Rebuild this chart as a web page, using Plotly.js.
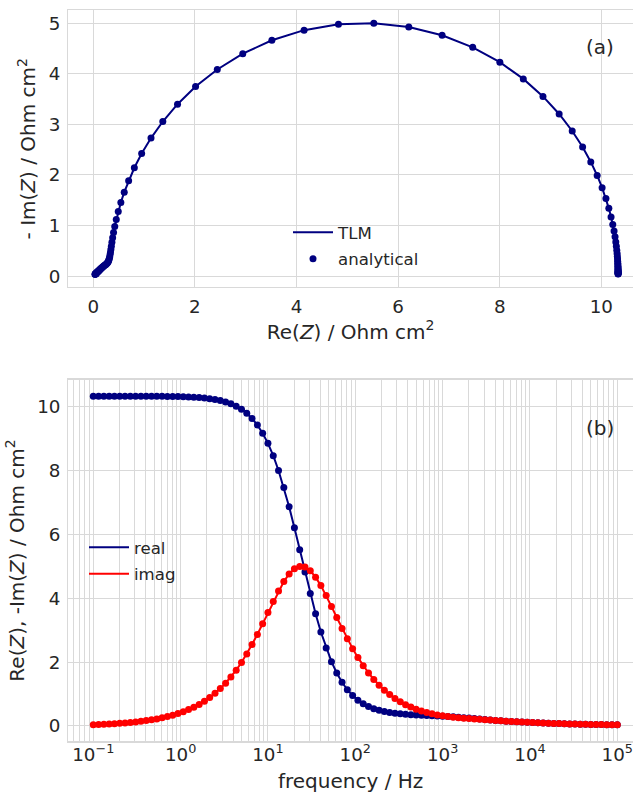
<!DOCTYPE html>
<html>
<head>
<meta charset="utf-8">
<script src="https://cdn.plot.ly/plotly-3.0.1.min.js"></script>
<style>
html, body { margin: 0; padding: 0; background: #ffffff; }
#chart { width: 633px; height: 793px; }
</style>
</head>
<body>
<div id="chart"></div>
<script>
// frequency / Hz (100 points, 0.1 Hz ... 100 kHz)
const frequency = [0.1, 0.115, 0.1322, 0.152, 0.1748, 0.2009, 0.231, 0.2656, 0.3054, 0.3511, 0.4037, 0.4642, 0.5337, 0.6136, 0.7055, 0.8111, 0.9326,
  1.072, 1.233, 1.417, 1.63, 1.874, 2.154, 2.477, 2.848, 3.275, 3.765, 4.329, 4.977, 5.722, 6.579, 7.565, 8.697,
  10, 11.5, 13.22, 15.2, 17.48, 20.09, 23.1, 26.56, 30.54, 35.11, 40.37, 46.42, 53.37, 61.36, 70.55, 81.11, 93.26,
  107.2, 123.3, 141.7, 163, 187.4, 215.4, 247.7, 284.8, 327.5, 376.5, 432.9, 497.7, 572.2, 657.9, 756.5, 869.7,
  1000, 1150, 1322, 1520, 1748, 2009, 2310, 2656, 3054, 3511, 4037, 4642, 5337, 6136, 7055, 8111, 9326,
  10720, 12330, 14170, 16300, 18740, 21540, 24770, 28480, 32750, 37650, 43290, 49770, 57220, 65790, 75650, 86970,
  100000];

// Re(Z) / Ohm cm2
const realZ = [10.3309, 10.3309, 10.3308, 10.3307, 10.3306, 10.3304, 10.3302, 10.3299, 10.3295, 10.3290,
  10.3283, 10.3274, 10.3262, 10.3246, 10.3225, 10.3197, 10.3160, 10.3112, 10.3048, 10.2963,
  10.2852, 10.2705, 10.2512, 10.2257, 10.1922, 10.1483, 10.0909, 10.0160, 9.9188, 9.7932,
  9.6321, 9.4274, 9.1702, 8.8518, 8.4645, 8.0034, 7.4685, 6.8662, 6.2104, 5.5219,
  4.8259, 4.1492, 3.5154, 2.9425, 2.4406, 2.0132, 1.6579, 1.3682, 1.1359, 0.9519,
  0.8078, 0.6957, 0.6091, 0.5424, 0.4913, 0.4520, 0.4219, 0.3987, 0.3808, 0.3667,
  0.3553, 0.3459, 0.3376, 0.3301, 0.3226, 0.3149, 0.3065, 0.2971, 0.2865, 0.2745,
  0.2614, 0.2472, 0.2322, 0.2171, 0.2021, 0.1877, 0.1742, 0.1618, 0.1504, 0.1400,
  0.1305, 0.1218, 0.1136, 0.1059, 0.0988, 0.0921, 0.0859, 0.0801, 0.0747, 0.0696,
  0.0649, 0.0606, 0.0565, 0.0527, 0.0491, 0.0458, 0.0427, 0.0398, 0.0371, 0.0346];

// -Im(Z) / Ohm cm2
const negImagZ = [0.0417, 0.0479, 0.0551, 0.0633, 0.0728, 0.0837, 0.0963, 0.1107, 0.1273, 0.1463,
  0.1682, 0.1933, 0.2223, 0.2556, 0.2938, 0.3377, 0.3881, 0.4460, 0.5125, 0.5887,
  0.6761, 0.7762, 0.8907, 1.0214, 1.1705, 1.3398, 1.5314, 1.7473, 1.9887, 2.2566,
  2.5504, 2.8678, 3.2041, 3.5512, 3.8975, 4.2272, 4.5215, 4.7601, 4.9239, 4.9985,
  4.9768, 4.8611, 4.6619, 4.3962, 4.0841, 3.7455, 3.3980, 3.0555, 2.7281, 2.4221,
  2.1413, 1.8866, 1.6590, 1.4562, 1.2771, 1.1197, 0.9821, 0.8623, 0.7583, 0.6683,
  0.5909, 0.5246, 0.4680, 0.4202, 0.3799, 0.3462, 0.3182, 0.2950, 0.2755, 0.2591,
  0.2448, 0.2318, 0.2196, 0.2076, 0.1957, 0.1839, 0.1722, 0.1609, 0.1500, 0.1398,
  0.1303, 0.1215, 0.1133, 0.1057, 0.0986, 0.0919, 0.0857, 0.0800, 0.0746, 0.0696,
  0.0649, 0.0605, 0.0564, 0.0526, 0.0491, 0.0458, 0.0427, 0.0398, 0.0371, 0.0346];

const freqTickVals = [0.1, 1, 10, 100, 1000, 10000, 100000];
const freqTickText = ['10<sup>\u22121</sup>', '10<sup>0</sup>', '10<sup>1</sup>', '10<sup>2</sup>', '10<sup>3</sup>', '10<sup>4</sup>', '10<sup>5</sup>'];

const FONT = 'DejaVu Sans, sans-serif';
const INK = '#262626';
const GRID = '#d9d9d9';
const NAVY = '#000080';
const RED = '#ff0000';

const traces = [
  { x: realZ, y: negImagZ, xaxis: 'x', yaxis: 'y', type: 'scatter', mode: 'lines', name: 'TLM',
    line: { color: NAVY, width: 2 }, legend: 'legend', legendgroup: 'g1' },
  { x: realZ, y: negImagZ, xaxis: 'x', yaxis: 'y', type: 'scatter', mode: 'markers', name: 'analytical',
    marker: { color: NAVY, size: 7 }, legend: 'legend', legendgroup: 'g2' },
  { x: frequency, y: realZ, xaxis: 'x2', yaxis: 'y2', type: 'scatter', mode: 'lines', name: 'real',
    line: { color: NAVY, width: 2 }, legend: 'legend2', legendgroup: 'g3' },
  { x: frequency, y: negImagZ, xaxis: 'x2', yaxis: 'y2', type: 'scatter', mode: 'lines', name: 'imag',
    line: { color: RED, width: 2 }, legend: 'legend2', legendgroup: 'g4' },
  { x: frequency, y: realZ, xaxis: 'x2', yaxis: 'y2', type: 'scatter', mode: 'markers', name: 'real (analytical)',
    marker: { color: NAVY, size: 7 }, showlegend: false },
  { x: frequency, y: negImagZ, xaxis: 'x2', yaxis: 'y2', type: 'scatter', mode: 'markers', name: 'imag (analytical)',
    marker: { color: RED, size: 7 }, showlegend: false }
];

const tickFont = { family: FONT, size: 18.3, color: INK };
const titleFont = { family: FONT, size: 20, color: INK };
function axisBase() {
  return { showline: true, mirror: true, linecolor: GRID, linewidth: 1.25, showgrid: true, gridcolor: GRID,
    gridwidth: 1, zeroline: false, ticks: '', tickfont: tickFont, automargin: false, ticklabelstandoff: 3 };
}

const layout = {
  width: 633, height: 793,
  margin: { l: 0, r: 0, t: 0, b: 0 },
  paper_bgcolor: '#ffffff', plot_bgcolor: '#ffffff',
  showlegend: true,
  xaxis: Object.assign(axisBase(), { domain: [0.1079, 1], range: [-0.492, 10.624], tick0: 0, dtick: 2, anchor: 'y',
    title: { text: 'Re(<i>Z</i>) / Ohm cm<sup>2</sup>', font: titleFont, standoff: 4 } }),
  yaxis: Object.assign(axisBase(), { domain: [0.6381, 0.9868], range: [-0.215, 5.25], tick0: 0, dtick: 1, anchor: 'x',
    title: { text: '- Im(<i>Z</i>) / Ohm cm<sup>2</sup>', font: titleFont, standoff: 7 } }),
  xaxis2: Object.assign(axisBase(), { type: 'log', domain: [0.1079, 1], range: [-1.286, 5.18], anchor: 'y2',
    tickmode: 'array', tickvals: freqTickVals, ticktext: freqTickText, ticklabelstandoff: -4,
    minor: { tickmode: 'linear', dtick: 'D1', showgrid: true, gridcolor: GRID, gridwidth: 1, ticks: '' },
    title: { text: 'frequency / Hz', font: titleFont, standoff: 15 } }),
  yaxis2: Object.assign(axisBase(), { domain: [0.0652, 0.5212], range: [-0.48, 10.846], tick0: 0, dtick: 2, anchor: 'x2',
    title: { text: 'Re(<i>Z</i>), -Im(<i>Z</i>) / Ohm cm<sup>2</sup>', font: titleFont, standoff: 7 } }),
  legend: { x: 288 / 633, xanchor: 'left', y: 1 - 215 / 793, yanchor: 'top', bgcolor: 'rgba(0,0,0,0)',
    font: { family: FONT, size: 16.6, color: INK }, tracegroupgap: 2, itemwidth: 40 },
  legend2: { x: 84 / 633, xanchor: 'left', y: 1 - 530 / 793, yanchor: 'top', bgcolor: 'rgba(0,0,0,0)',
    font: { family: FONT, size: 16.6, color: INK }, tracegroupgap: 2, itemwidth: 40 },
  annotations: [
    { xref: 'paper', yref: 'paper', x: 600 / 633, y: 1 - 47 / 793, text: '(a)', showarrow: false,
      xanchor: 'center', yanchor: 'middle', font: { family: FONT, size: 20, color: INK } },
    { xref: 'paper', yref: 'paper', x: 600 / 633, y: 1 - 428 / 793, text: '(b)', showarrow: false,
      xanchor: 'center', yanchor: 'middle', font: { family: FONT, size: 20, color: INK } }
  ]
};

Plotly.newPlot('chart', traces, layout, { displayModeBar: false, staticPlot: true });
</script>
</body>
</html>
